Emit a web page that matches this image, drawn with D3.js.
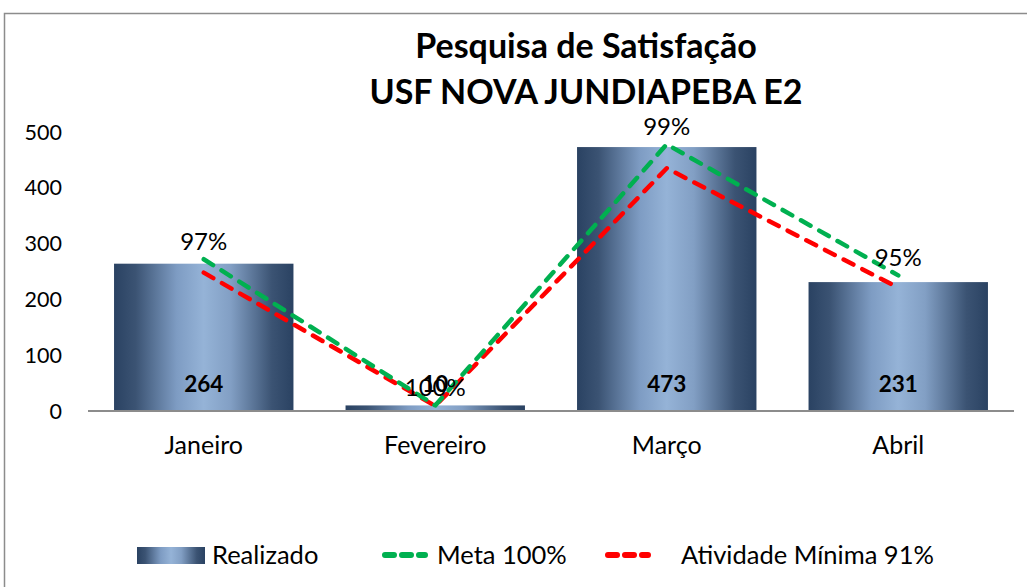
<!DOCTYPE html>
<html>
<head>
<meta charset="utf-8">
<script src="https://cdn.jsdelivr.net/npm/d3@7"></script>
<style>
  body { margin: 0; background: #fff; }
  svg { display: block; font-family: Lato, "Open Sans", sans-serif; }
</style>
</head>
<body>
<svg id="chart"></svg>
<script>
// chart data
const months = ['Janeiro', 'Fevereiro', 'Março', 'Abril'];
const realizado = [264, 10, 473, 231];
const meta = [272, 10, 478, 243];
const minima = [248, 9, 435, 221];
const pctLabels = ['97%', '100%', '99%', '95%'];
const yTicks = [0, 100, 200, 300, 400, 500];

const width = 1027, height = 587;
const plot = { left: 88, right: 1014, top: 132, bottom: 411 };

const svg = d3.select('#chart')
    .attr('width', width)
    .attr('height', height);

// bar gradient
const defs = svg.append('defs');
const grad = defs.append('linearGradient')
    .attr('id', 'barGrad')
    .attr('x1', '0%').attr('x2', '100%')
    .attr('y1', '0%').attr('y2', '0%');
[[0, '#2a4262'], [0.12, '#3b5373'], [0.35, '#7e9cc3'], [0.5, '#95b3d7'], [0.65, '#829fc4'], [0.88, '#3b5373'], [1, '#2a4262']]
    .forEach(([o, c]) => grad.append('stop').attr('offset', o).attr('stop-color', c));

// outer frame
svg.append('rect')
    .attr('x', 4.5).attr('y', 13.5)
    .attr('width', 1040).attr('height', 600)
    .attr('fill', 'none')
    .attr('stroke', '#8c8c8c')
    .attr('stroke-width', 1.5);

const x = d3.scaleBand()
    .domain(months)
    .range([plot.left, plot.right])
    .paddingInner(0.225)
    .paddingOuter(0.1125);

const y = d3.scaleLinear()
    .domain([0, 500])
    .range([plot.bottom, plot.top]);

// title
const title = svg.append('text')
    .attr('text-anchor', 'middle')
    .attr('font-size', 34).attr('font-weight', 'bold');
title.append('tspan').attr('x', 586).attr('y', 58).text('Pesquisa de Satisfação');
title.append('tspan').attr('x', 586).attr('y', 104).text('USF NOVA JUNDIAPEBA E2');

// y tick labels (no axis line)
svg.append('g')
    .selectAll('text')
    .data(yTicks)
    .join('text')
    .attr('x', 62)
    .attr('y', d => y(d))
    .attr('dy', '0.35em')
    .attr('text-anchor', 'end')
    .attr('font-size', 21.5)
    .text(d => d);

// bars
svg.append('g')
    .selectAll('rect')
    .data(realizado)
    .join('rect')
    .attr('x', (d, i) => x(months[i]))
    .attr('y', d => y(d))
    .attr('width', x.bandwidth())
    .attr('height', d => y(0) - y(d))
    .attr('fill', 'url(#barGrad)');

// baseline
svg.append('line')
    .attr('x1', plot.left).attr('x2', plot.right)
    .attr('y1', y(0)).attr('y2', y(0))
    .attr('stroke', '#8c8c8c')
    .attr('stroke-width', 2);

// category labels
svg.append('g')
    .selectAll('text')
    .data(months)
    .join('text')
    .attr('x', d => x(d) + x.bandwidth() / 2)
    .attr('y', 445)
    .attr('dy', '0.35em')
    .attr('text-anchor', 'middle')
    .attr('font-size', 25)
    .text(d => d);

// bar value labels, inside base
svg.append('g')
    .selectAll('text')
    .data(realizado)
    .join('text')
    .attr('x', (d, i) => x(months[i]) + x.bandwidth() / 2)
    .attr('y', 384)
    .attr('dy', '0.35em')
    .attr('text-anchor', 'middle')
    .attr('font-size', 22.5)
    .attr('font-weight', 'bold')
    .text(d => d);

// lines
const cx = i => x(months[i]) + x.bandwidth() / 2;
const line = d3.line()
    .x((d, i) => cx(i))
    .y(d => y(d));

svg.append('path')
    .attr('d', line(minima))
    .attr('fill', 'none')
    .attr('stroke', '#ff0000')
    .attr('stroke-width', 4.5)
    .attr('stroke-dasharray', '11 10')
    .attr('stroke-linecap', 'round')
    .attr('stroke-linejoin', 'round');

svg.append('path')
    .attr('d', line(meta))
    .attr('fill', 'none')
    .attr('stroke', '#00b050')
    .attr('stroke-width', 4.5)
    .attr('stroke-dasharray', '11 10')
    .attr('stroke-linecap', 'round')
    .attr('stroke-linejoin', 'round');

// percent labels
svg.append('g')
    .selectAll('text')
    .data(pctLabels)
    .join('text')
    .attr('x', (d, i) => cx(i))
    .attr('y', (d, i) => y(meta[i]) - 18)
    .attr('dy', '0.35em')
    .attr('text-anchor', 'middle')
    .attr('font-size', 24)
    .text(d => d);

// legend
const legend = svg.append('g').attr('font-size', 25.5);
legend.append('rect')
    .attr('x', 137).attr('y', 547)
    .attr('width', 68).attr('height', 17)
    .attr('fill', 'url(#barGrad)');
legend.append('text')
    .attr('x', 212).attr('y', 555).attr('dy', '0.35em')
    .text('Realizado');

const legendLines = [
    { x: 385, color: '#00b050', label: 'Meta 100%', tx: 437 },
    { x: 608, color: '#ff0000', label: 'Atividade Mínima 91%', tx: 681 }
];
legendLines.forEach(l => {
    legend.append('line')
        .attr('x1', l.x).attr('x2', l.x + 40)
        .attr('y1', 555).attr('y2', 555)
        .attr('stroke', l.color)
        .attr('stroke-width', 6)
        .attr('stroke-dasharray', '9 8')
        .attr('stroke-linecap', 'round');
    legend.append('text')
        .attr('x', l.tx).attr('y', 555).attr('dy', '0.35em')
        .text(l.label);
});
</script>
</body>
</html>
